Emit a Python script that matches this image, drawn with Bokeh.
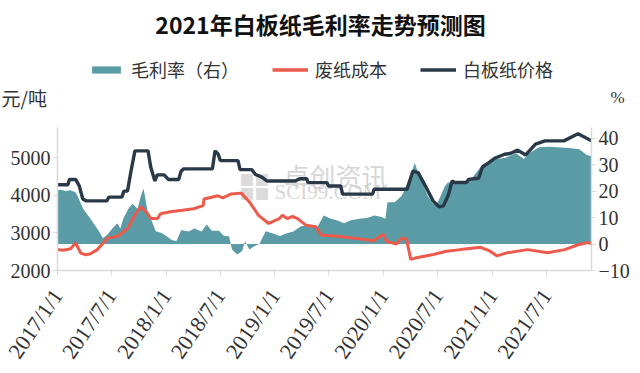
import pandas as pd
from bokeh.plotting import figure
from bokeh.layouts import column
from bokeh.models import Range1d, LinearAxis, FixedTicker, Label, Legend, LegendItem
from bokeh.embed import file_html
from bokeh.resources import INLINE

TITLE = "2021年白板纸毛利率走势预测图"
LEFT_UNIT = "元/吨"
RIGHT_UNIT = "%"
SERIES_NAMES = ["毛利率（右）", "废纸成本", "白板纸价格"]
WATERMARK = ["卓创资讯", "SCI99.COM", "■■"]

X_TICKS = ["2017-01-01", "2017-07-01", "2018-01-01", "2018-07-01", "2019-01-01",
           "2019-07-01", "2020-01-01", "2020-07-01", "2021-01-01", "2021-07-01"]
X_TICK_LABELS = ["2017/1/1", "2017/7/1", "2018/1/1", "2018/7/1", "2019/1/1",
                 "2019/7/1", "2020/1/1", "2020/7/1", "2021/1/1", "2021/7/1"]
LEFT_TICKS = [2000, 3000, 4000, 5000]
RIGHT_TICKS = [-10, 0, 10, 20, 30, 40]

price_dates = ["2017-01-01", "2017-02-05", "2017-02-10", "2017-03-03", "2017-03-15", "2017-03-27",
               "2017-04-08", "2017-06-16", "2017-06-22", "2017-08-05", "2017-08-12", "2017-08-24",
               "2017-09-05", "2017-09-18", "2017-11-01", "2017-11-10", "2017-11-24", "2017-12-02",
               "2017-12-25", "2018-01-08", "2018-02-12", "2018-02-20", "2018-03-01", "2018-06-05",
               "2018-06-14", "2018-06-24", "2018-07-02", "2018-08-30", "2018-09-06", "2018-10-15",
               "2018-10-28", "2018-11-18", "2018-12-05", "2019-03-10", "2019-03-25", "2019-04-18",
               "2019-04-22", "2019-06-25", "2019-06-30", "2019-08-10", "2019-08-16", "2019-11-25",
               "2019-11-30", "2020-03-20", "2020-04-08", "2020-04-26", "2020-05-20", "2020-06-15",
               "2020-07-05", "2020-07-20", "2020-08-05", "2020-08-18", "2020-08-25", "2020-10-05",
               "2020-10-12", "2020-11-15", "2020-11-28", "2020-12-18", "2021-01-10", "2021-02-10",
               "2021-03-01", "2021-03-26", "2021-04-22", "2021-05-25", "2021-06-26", "2021-08-28",
               "2021-10-15", "2021-11-29"]
price = [4280, 4280, 4420, 4420, 4250, 3900,
         3850, 3850, 3950, 3950, 4110, 4110,
         4650, 5180, 5180, 4750, 4380, 4540,
         4540, 4420, 4420, 4640, 4700, 4700,
         5180, 5100, 4920, 4920, 4680, 4680,
         4550, 4480, 4380, 4380, 4440, 4440,
         4335, 4335, 4246, 4246, 4030, 4030,
         4160, 4160, 4640, 4600, 4250, 3850,
         3690, 3720, 4000, 4380, 4340, 4340,
         4420, 4450, 4750, 4860, 4990, 5090,
         5110, 5200, 5070, 5360, 5445, 5445,
         5635, 5445]

cost_dates = ["2017-01-01", "2017-01-20", "2017-02-14", "2017-03-03", "2017-03-20", "2017-04-05",
              "2017-04-20", "2017-05-15", "2017-06-18", "2017-07-22", "2017-08-25", "2017-09-20",
              "2017-10-08", "2017-10-31", "2017-11-10", "2017-12-03", "2017-12-13", "2018-01-15",
              "2018-02-18", "2018-04-03", "2018-05-05", "2018-05-08", "2018-06-24", "2018-07-10",
              "2018-08-06", "2018-09-10", "2018-10-08", "2018-11-07", "2018-12-11", "2019-01-16",
              "2019-01-26", "2019-02-12", "2019-03-01", "2019-03-18", "2019-04-15", "2019-05-18",
              "2019-06-05", "2019-08-08", "2019-10-15", "2019-11-28", "2019-12-30", "2020-01-10",
              "2020-02-13", "2020-03-01", "2020-03-18", "2020-04-01", "2020-04-20", "2020-06-16",
              "2020-07-30", "2020-09-15", "2020-11-22", "2020-12-20", "2021-01-15", "2021-02-18",
              "2021-04-28", "2021-07-05", "2021-08-31", "2021-10-15", "2021-11-18", "2021-11-29"]
cost = [2555, 2540, 2580, 2730, 2460, 2420,
        2440, 2555, 2860, 2910, 3120, 3510,
        3690, 3510, 3380, 3380, 3510, 3560,
        3595, 3640, 3725, 3900, 3985, 3930,
        4030, 4056, 3815, 3465, 3250, 3380,
        3465, 3380, 3440, 3380, 3205, 3163,
        2945, 2903, 2840, 2790, 2960, 2773,
        2703, 2860, 2830, 2295, 2340, 2425,
        2510, 2555, 2617, 2530, 2390, 2470,
        2555, 2470, 2555, 2685, 2745, 2703]

margin_dates = ["2017-01-01", "2017-01-11", "2017-01-28", "2017-02-14", "2017-03-03", "2017-03-09",
                "2017-03-28", "2017-04-21", "2017-05-14", "2017-06-03", "2017-06-17", "2017-07-04",
                "2017-07-21", "2017-07-31", "2017-08-10", "2017-08-27", "2017-09-10", "2017-09-27",
                "2017-10-07", "2017-10-17", "2017-10-31", "2017-11-10", "2017-11-27", "2017-12-14",
                "2018-01-01", "2018-01-18", "2018-02-04", "2018-02-21", "2018-03-17", "2018-04-06",
                "2018-04-30", "2018-05-17", "2018-06-03", "2018-06-27", "2018-07-14", "2018-07-31",
                "2018-08-10", "2018-08-27", "2018-09-13", "2018-09-23", "2018-10-07", "2018-10-24",
                "2018-11-10", "2018-12-01", "2018-12-25", "2019-01-18", "2019-02-08", "2019-03-04",
                "2019-03-28", "2019-04-17", "2019-05-21", "2019-06-14", "2019-07-08", "2019-07-28",
                "2019-08-21", "2019-09-13", "2019-10-17", "2019-11-07", "2019-12-01", "2019-12-25",
                "2020-01-07", "2020-01-14", "2020-02-07", "2020-03-02", "2020-03-12", "2020-03-29",
                "2020-04-15", "2020-04-25", "2020-05-08", "2020-05-28", "2020-06-14", "2020-07-01",
                "2020-07-25", "2020-08-04", "2020-09-20", "2020-10-25", "2020-11-28", "2021-01-11",
                "2021-02-14", "2021-03-20", "2021-04-16", "2021-05-03", "2021-06-06", "2021-07-10",
                "2021-09-15", "2021-10-19", "2021-11-12", "2021-11-29"]
margin = [20.3, 20.5, 20.0, 20.3, 19.5, 18.2,
          13.3, 9.6, 5.9, 2.2, 3.5, 5.9,
          7.8, 5.9, 9.6, 13.3, 15.2, 13.3,
          17.8, 21.0, 12.0, 9.6, 4.8, 4.3,
          3.0, 1.6, 1.0, 5.3, 4.7, 5.9,
          4.7, 7.4, 5.0, 5.0, 3.0, 2.9,
          -2.1, -4.0, -2.6, 1.0, -2.1, -0.8,
          0.0, 4.8, 4.0, 3.0, 4.0, 4.7,
          6.6, 7.1, 5.9, 10.8, 9.5, 9.0,
          7.8, 9.0, 9.6, 9.8, 10.8, 10.2,
          9.5, 15.8, 15.8, 18.2, 20.7, 25.6,
          30.6, 27.0, 23.8, 18.2, 15.2, 15.8,
          21.9, 23.2, 23.2, 25.0, 30.0, 32.0,
          32.6, 34.3, 32.1, 34.3, 36.5, 36.7,
          36.3, 35.8, 33.7, 33.1]

AREA_COLOR = "#5B9BA6"
COST_COLOR = "#EC5A4B"
PRICE_COLOR = "#2A3947"
AXIS_COLOR = "#D9D9D9"
TEXT_COLOR = "#333333"
WM_COLOR = "#C4C4C4"
SERIF = "Liberation Serif"
CJK = "Noto Sans CJK SC"
W = 632
FRAME_LEFT = 57

to_dt = lambda s: pd.to_datetime(s)

# ---------- header: title, legend, unit labels ----------
head = figure(width=W, height=127, x_range=Range1d(0, 10), y_range=Range1d(0, 10),
              x_axis_location=None, y_axis_location=None, min_border=0,
              output_backend="svg", toolbar_location=None)
try:
    head.frame_align = False
    OFF = 0
except Exception:
    OFF = FRAME_LEFT
head.outline_line_color = None
head.xgrid.visible = False
head.ygrid.visible = False
# proxies drawn off-range, only used for the legend swatches
d_area = head.varea(x=[-5, -4], y1=[-5, -5], y2=[-4, -4], fill_color=AREA_COLOR)
d_cost = head.line(x=[-5, -4], y=[-5, -5], line_color=COST_COLOR, line_width=3.5)
d_price = head.line(x=[-5, -4], y=[-5, -5], line_color=PRICE_COLOR, line_width=3.5)
legend = Legend(items=[LegendItem(label=SERIES_NAMES[0], renderers=[d_area]),
                       LegendItem(label=SERIES_NAMES[1], renderers=[d_cost]),
                       LegendItem(label=SERIES_NAMES[2], renderers=[d_price])],
                orientation="horizontal", location=(88 - OFF, 45),
                label_text_font=CJK, label_text_font_size="18px", label_text_color=TEXT_COLOR,
                glyph_width=36, glyph_height=9, label_standoff=7, spacing=33,
                padding=0, margin=0, border_line_color=None, background_fill_alpha=0)
head.add_layout(legend, "center")
head.add_layout(Label(x=320 - OFF, y=104, x_units="screen", y_units="screen", text=TITLE,
                      text_font=CJK, text_font_size="23px", text_font_style="bold",
                      text_color="#111111", text_align="center", text_baseline="middle"))
head.add_layout(Label(x=1 - OFF, y=30, x_units="screen", y_units="screen", text=LEFT_UNIT,
                      text_font=CJK, text_font_size="19px", text_color=TEXT_COLOR,
                      text_baseline="middle"))
head.add_layout(Label(x=610 - OFF, y=30, x_units="screen", y_units="screen", text=RIGHT_UNIT,
                      text_font=SERIF, text_font_size="17px", text_color=TEXT_COLOR,
                      text_baseline="middle"))

# ---------- chart ----------
p = figure(width=W, height=246, x_axis_type="datetime",
           x_range=Range1d(pd.Timestamp("2017-01-01"), pd.Timestamp("2021-11-29")),
           y_range=Range1d(2000, 5800),
           output_backend="svg", toolbar_location=None,
           min_border_left=FRAME_LEFT, min_border_right=33, min_border_top=0, min_border_bottom=100)
p.extra_y_ranges = {"pct": Range1d(-10, 44)}
p.outline_line_color = None
p.xgrid.visible = False
p.ygrid.visible = False

# faint watermark (logo squares + text), under the data
p.add_layout(Label(x=182, y=91, x_units="screen", y_units="screen", text=WATERMARK[2],
                   text_font=CJK, text_font_size="15px", text_color=WM_COLOR, text_alpha=0.6,
                   text_baseline="middle", level="underlay"))
p.add_layout(Label(x=182, y=77, x_units="screen", y_units="screen", text=WATERMARK[2],
                   text_font=CJK, text_font_size="15px", text_color=WM_COLOR, text_alpha=0.6,
                   text_baseline="middle", level="underlay"))
p.add_layout(Label(x=226, y=95, x_units="screen", y_units="screen", text=WATERMARK[0],
                   text_font=CJK, text_font_size="26px", text_color=WM_COLOR, text_alpha=0.7,
                   text_baseline="middle", level="underlay"))
p.add_layout(Label(x=217, y=79, x_units="screen", y_units="screen", text=WATERMARK[1],
                   text_font=SERIF, text_font_size="21px", text_color=WM_COLOR, text_alpha=0.7,
                   text_baseline="middle", level="underlay"))

r_area = p.varea(x=to_dt(margin_dates), y1=0, y2=margin, y_range_name="pct",
                 fill_color=AREA_COLOR)
r_cost = p.line(x=to_dt(cost_dates), y=cost, line_color=COST_COLOR, line_width=3)
r_price = p.line(x=to_dt(price_dates), y=price, line_color=PRICE_COLOR, line_width=3.4)

right_axis = LinearAxis(y_range_name="pct", ticker=FixedTicker(ticks=RIGHT_TICKS))
p.add_layout(right_axis, "right")

tick_ms = [pd.Timestamp(t).value // 10**6 for t in X_TICKS]
p.xaxis.ticker = FixedTicker(ticks=tick_ms)
p.xaxis.major_label_overrides = {ms: lab for ms, lab in zip(tick_ms, X_TICK_LABELS)}
p.xaxis.major_label_orientation = 0.97
p.yaxis[0].ticker = FixedTicker(ticks=LEFT_TICKS)

for ax in p.axis:
    ax.axis_line_color = AXIS_COLOR
    ax.axis_line_width = 1.5
    ax.major_tick_line_color = AXIS_COLOR
    ax.major_tick_out = 4
    ax.major_tick_in = 0
    ax.minor_tick_line_color = None
    ax.major_label_text_font = SERIF
    ax.major_label_text_font_size = "20px"
    ax.major_label_text_color = TEXT_COLOR
    ax.major_label_standoff = 3
p.xaxis.major_label_text_font_size = "22px"
p.xaxis.major_tick_out = 5
p.xaxis.major_label_standoff = 16

open("out.html", "w").write(file_html(column(head, p, spacing=0), INLINE))
